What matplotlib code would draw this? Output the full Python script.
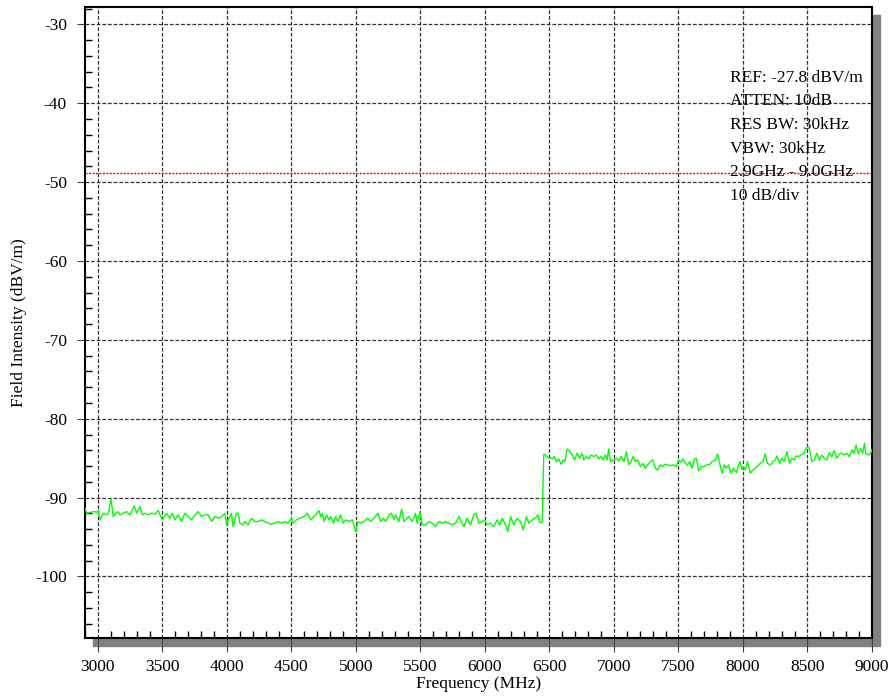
import matplotlib
matplotlib.use("Agg")
import matplotlib.pyplot as plt
from matplotlib.patches import Rectangle
from matplotlib.ticker import MultipleLocator

# trace (MHz, dBV/m)
freq_mhz = [
    2900, 2913, 2939, 2965, 2990, 3003, 3016, 3042, 3068, 3081, 3101, 3119, 3137, 3158,
    3171, 3197, 3223, 3248, 3282, 3300, 3326, 3344, 3365, 3390, 3416, 3442, 3468, 3499,
    3532, 3558, 3576, 3597, 3623, 3648, 3674, 3700, 3726, 3752, 3777, 3803, 3829, 3855,
    3881, 3906, 3932, 3958, 3984, 3997, 4010, 4035, 4048, 4074, 4087, 4100, 4126, 4139,
    4164, 4190, 4216, 4242, 4268, 4294, 4319, 4345, 4371, 4397, 4423, 4448, 4474, 4500,
    4513, 4539, 4565, 4598, 4624, 4649, 4675, 4714, 4727, 4740, 4753, 4773, 4791, 4804,
    4825, 4843, 4861, 4882, 4902, 4920, 4946, 4972, 4998, 5016, 5036, 5062, 5088, 5114,
    5140, 5171, 5191, 5212, 5230, 5256, 5274, 5295, 5307, 5333, 5354, 5372, 5398, 5411,
    5436, 5462, 5475, 5496, 5514, 5540, 5566, 5591, 5617, 5643, 5669, 5695, 5720, 5746,
    5772, 5798, 5816, 5836, 5862, 5888, 5914, 5932, 5953, 5978, 5999, 6017, 6043, 6069,
    6094, 6115, 6133, 6159, 6177, 6198, 6224, 6249, 6275, 6296, 6322, 6340, 6365, 6391,
    6409, 6425, 6443, 6456, 6469, 6482, 6495, 6508, 6521, 6539, 6554, 6572, 6590, 6606,
    6619, 6637, 6658, 6676, 6694, 6714, 6735, 6753, 6766, 6787, 6805, 6823, 6843, 6864,
    6882, 6900, 6916, 6934, 6947, 6959, 6972, 6998, 7019, 7037, 7055, 7076, 7096, 7114,
    7132, 7148, 7166, 7184, 7205, 7225, 7243, 7261, 7282, 7300, 7321, 7339, 7359, 7380,
    7398, 7416, 7437, 7463, 7483, 7501, 7519, 7535, 7553, 7571, 7587, 7605, 7623, 7638,
    7656, 7674, 7695, 7721, 7746, 7759, 7785, 7803, 7819, 7837, 7855, 7870, 7888, 7906,
    7927, 7948, 7966, 7979, 7992, 8004, 8017, 8035, 8056, 8077, 8095, 8113, 8134, 8154,
    8172, 8190, 8211, 8232, 8250, 8263, 8283, 8301, 8319, 8340, 8361, 8379, 8397, 8412,
    8430, 8448, 8469, 8482, 8500, 8515, 8533, 8552, 8572, 8593, 8611, 8629, 8650, 8668,
    8688, 8706, 8727, 8748, 8766, 8784, 8804, 8825, 8843, 8861, 8877, 8895, 8913, 8928,
    8941, 8954, 8972, 8990, 9000,
]
level_dbv = [
    -91.35, -91.98, -91.90, -91.77, -91.85, -91.64, -92.82, -91.98, -92.19, -91.98, -90.17, -92.40, -91.98, -91.77,
    -92.19, -91.98, -91.77, -92.19, -91.05, -91.98, -91.14, -92.19, -91.98, -92.19, -91.98, -92.10, -91.64, -92.82,
    -91.98, -92.61, -91.98, -92.82, -92.19, -93.03, -91.98, -92.40, -92.82, -92.19, -91.77, -92.40, -92.19, -92.19,
    -93.03, -92.40, -92.61, -92.40, -91.98, -93.45, -92.82, -91.98, -93.67, -91.98, -91.98, -93.24, -93.45, -93.03,
    -93.45, -92.61, -93.03, -93.03, -92.82, -93.03, -93.24, -93.37, -93.24, -93.03, -93.24, -93.03, -93.24, -92.61,
    -93.24, -92.82, -92.61, -92.40, -91.98, -92.82, -92.40, -91.64, -92.40, -91.98, -93.03, -92.19, -92.82, -92.40,
    -93.24, -92.40, -93.03, -92.19, -93.24, -92.82, -93.03, -92.82, -94.30, -93.03, -93.24, -93.03, -92.61, -93.03,
    -92.61, -91.98, -93.03, -92.61, -93.03, -92.19, -91.98, -92.82, -92.19, -93.03, -91.47, -93.03, -92.61, -92.40,
    -93.03, -91.98, -93.24, -91.77, -93.45, -93.45, -93.03, -93.24, -93.67, -93.03, -93.24, -93.03, -93.24, -93.45,
    -93.24, -92.40, -93.03, -93.67, -92.61, -93.45, -92.10, -91.98, -93.24, -93.03, -92.82, -93.45, -93.24, -93.67,
    -92.82, -93.45, -92.61, -93.45, -94.30, -92.40, -93.45, -92.61, -93.03, -94.09, -92.40, -93.24, -92.82, -92.61,
    -92.19, -93.16, -93.16, -84.51, -84.59, -84.80, -85.01, -84.93, -85.10, -84.80, -85.44, -85.10, -85.77, -85.22,
    -85.44, -83.83, -84.17, -84.59, -85.22, -84.38, -85.01, -84.38, -85.22, -84.80, -85.10, -84.59, -84.80, -84.59,
    -85.10, -84.80, -85.22, -84.59, -85.22, -83.83, -85.44, -85.22, -85.01, -85.35, -84.80, -85.44, -84.17, -85.86,
    -85.44, -84.80, -85.44, -85.22, -86.07, -85.65, -86.28, -85.86, -85.44, -85.22, -86.28, -86.49, -85.86, -86.07,
    -85.77, -85.86, -85.94, -85.86, -86.07, -85.22, -85.52, -85.10, -85.65, -85.86, -85.44, -86.28, -85.10, -85.01,
    -86.62, -86.07, -86.07, -85.86, -85.77, -85.44, -85.23, -84.47, -85.65, -86.91, -85.86, -86.28, -85.86, -86.91,
    -86.28, -86.83, -85.86, -85.44, -86.41, -86.07, -86.49, -85.44, -86.91, -86.49, -86.28, -85.99, -85.65, -85.44,
    -84.47, -85.65, -85.86, -85.44, -85.23, -84.72, -85.65, -85.02, -85.44, -84.17, -85.65, -85.02, -85.23, -84.72,
    -84.81, -84.59, -84.47, -83.96, -83.54, -83.75, -85.44, -85.23, -84.38, -85.23, -84.59, -85.02, -85.23, -84.30,
    -84.81, -84.05, -85.02, -84.47, -84.38, -84.59, -84.38, -84.81, -83.96, -84.38, -83.33, -84.47, -83.75, -84.38,
    -83.12, -84.47, -84.59, -84.38, -83.90,
]

ref_level = -48.8
settings = [
    "REF: -27.8 dBV/m",
    "ATTEN: 10dB",
    "RES BW: 30kHz",
    "VBW: 30kHz",
    "2.9GHz - 9.0GHz",
    "10 dB/div",
]


def main():
    plt.rcParams["font.family"] = ["Liberation Serif", "DejaVu Serif"]
    plt.rcParams["axes.unicode_minus"] = False

    W, H = 890, 698
    fig = plt.figure(figsize=(W / 100, H / 100), dpi=100)
    ax = fig.add_axes([85 / W, 1 - 638 / H, 787 / W, 631 / H])

    # drop shadow behind the plot frame
    shadow = Rectangle(
        (93 / W, 1 - 646 / H), 787 / W, 631 / H,
        transform=fig.transFigure, color="#808080", zorder=-1,
    )
    fig.patches.append(shadow)

    ax.plot(freq_mhz, level_dbv, color="#00ff00", lw=1.0, zorder=3)
    ax.axhline(ref_level, color="#ff0000", ls=(0, (1.5, 1)), lw=1.0, zorder=2)

    ax.set_xlim(2900, 9000)
    ax.set_ylim(-107.8, -27.8)

    ax.xaxis.set_major_locator(MultipleLocator(500))
    ax.xaxis.set_minor_locator(MultipleLocator(100))
    ax.yaxis.set_major_locator(MultipleLocator(10))
    ax.yaxis.set_minor_locator(MultipleLocator(2))

    ax.grid(True, which="major", color="#333333", ls=(0, (3, 1.5)), lw=0.9)

    fs = 12.5
    ax.tick_params(axis="x", which="major", direction="out", length=10,
                   width=0.8, color="#444444", pad=5, labelsize=fs)
    ax.tick_params(axis="y", which="major", direction="out", length=6,
                   width=0.8, color="#444444", pad=7, labelsize=fs)
    ax.tick_params(which="minor", direction="in", length=5, width=1.0, color="black")

    for s in ax.spines.values():
        s.set_linewidth(1.5)

    ax.set_xlabel("Frequency (MHz)", fontsize=fs, labelpad=1)
    ax.set_ylabel("Field Intensity (dBV/m)", fontsize=fs, labelpad=6)

    for i, line in enumerate(settings):
        ax.text(7901, -36.75 - 3.0 * i, line, fontsize=fs, ha="left", va="center", zorder=4)

    fig.savefig("out.png", dpi=100)


if __name__ == "__main__":
    main()
